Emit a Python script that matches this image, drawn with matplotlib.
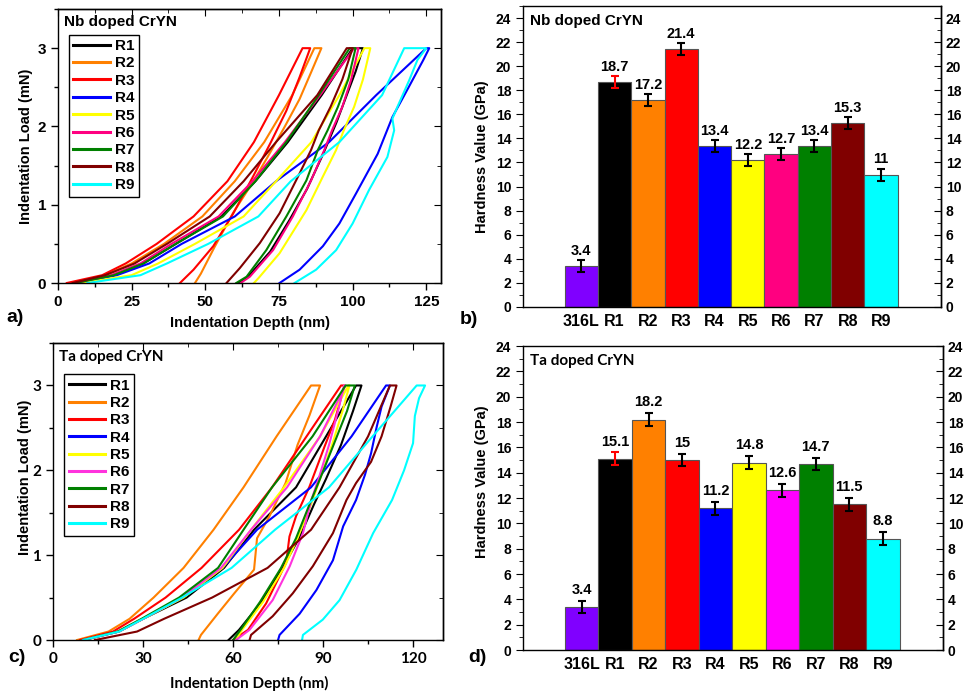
import numpy as np
import matplotlib
matplotlib.use('Agg')
from matplotlib import pyplot as plt
from matplotlib.ticker import MultipleLocator

plt.rcParams['font.family'] = 'Liberation Sans'
plt.rcParams['font.weight'] = 'bold'
plt.rcParams['axes.linewidth'] = 1.0

samples = ['R1', 'R2', 'R3', 'R4', 'R5', 'R6', 'R7', 'R8', 'R9']
bar_names = ['316L'] + samples

# load levels (mN) used for the loading branches
load_steps = [0, 0.1, 0.25, 0.5, 0.85, 1.3, 1.8, 2.4, 3.0]

# Nb doped: depth (nm) of loading branch at load_steps
nb_up = {
    'R1': [6, 19, 29, 40, 55.5, 67, 78, 89.5, 100],
    'R2': [5, 16, 25, 36, 49, 60, 70, 79.5, 87],
    'R3': [3, 15, 23, 33.5, 46, 57.5, 66.5, 75, 83],
    'R4': [7, 20, 31, 42, 60, 74, 92, 108, 125],
    'R5': [8, 25, 34, 46.5, 63, 74, 86, 95.5, 104],
    'R6': [6, 18, 28, 38.5, 54.5, 66, 77, 89, 100.5],
    'R7': [6, 19, 29, 40, 56, 67, 77.5, 88.5, 99],
    'R8': [5, 16, 26, 37, 51.5, 63, 74, 88, 98],
    'R9': [10, 28, 37, 51, 68, 79, 95.5, 110, 117.5],
}
# Nb doped: unloading branches
nb_down_x = {
    'R1': [103.5, 101, 97.5, 94.5, 90, 84.5, 78.5, 72, 64.5, 61.2],
    'R2': [89.4, 86, 82, 77, 71, 65.5, 59.5, 53, 48.5, 46.5],
    'R3': [85.6, 82, 77.5, 72, 66.2, 59.5, 52.7, 46, 41.4],
    'R4': [126, 124, 119, 113.5, 108.5, 101.1, 95.5, 89.9, 82, 75.2],
    'R5': [106, 103.5, 100.5, 97, 94.4, 89.9, 84.3, 75.2, 68, 66.5],
    'R6': [102, 99.5, 96.5, 93, 90.4, 85.9, 79.7, 73, 65.1, 62],
    'R7': [101, 98.5, 95, 91.5, 88.2, 84.3, 77.5, 70.7, 64, 60.5],
    'R8': [100, 96.5, 92.5, 88.5, 85.9, 82, 75.2, 68.5, 61.7, 57.2],
    'R9': [125, 122, 119.2, 115.2, 113.5, 114.1, 111.8, 105.6, 100, 94.4, 87.6, 80.3],
}
nb_down_y = {
    'R1': [3, 2.7, 2.35, 2.05, 1.65, 1.2, 0.8, 0.4, 0.08, 0],
    'R2': [3, 2.7, 2.35, 2.0, 1.6, 1.25, 0.9, 0.45, 0.12, 0],
    'R3': [3, 2.63, 2.2, 1.78, 1.36, 0.89, 0.47, 0.17, 0],
    'R4': [3, 2.85, 2.5, 2.12, 1.65, 1.14, 0.76, 0.47, 0.17, 0],
    'R5': [3, 2.6, 2.25, 1.95, 1.7, 1.36, 0.93, 0.38, 0.06, 0],
    'R6': [3, 2.6, 2.25, 1.95, 1.7, 1.31, 0.85, 0.42, 0.08, 0],
    'R7': [3, 2.6, 2.25, 1.95, 1.7, 1.31, 0.85, 0.42, 0.08, 0],
    'R8': [3, 2.6, 2.25, 1.95, 1.7, 1.4, 0.89, 0.51, 0.19, 0],
    'R9': [3, 2.85, 2.59, 2.25, 2.1, 1.95, 1.61, 1.19, 0.76, 0.42, 0.17, 0],
}

# Ta doped: loading branches
ta_up = {
    'R1': [10, 22, 30, 44.5, 57, 67, 81, 91, 101],
    'R2': [8, 18.5, 25.5, 33.5, 43.5, 53.5, 63.5, 74.5, 86],
    'R3': [9, 20, 27, 37.5, 49.5, 62, 73, 84.5, 96],
    'R4': [10, 22, 30, 43, 56.5, 68, 86, 99.5, 111],
    'R5': [10, 22, 30, 43.5, 56.5, 66, 77, 89, 98.5],
    'R6': [10, 22, 30, 43, 56, 66, 78, 89, 97.5],
    'R7': [10, 21.5, 29.5, 42, 55, 63.5, 73, 86.5, 97.5],
    'R8': [14, 28, 37, 53, 71.5, 86, 95.5, 105, 112.3],
    'R9': [10, 22, 30, 43, 59.5, 74, 92, 106.5, 121.2],
}
ta_down_x = {
    'R1': [102.8, 100, 96, 91, 87, 82, 76.5, 69.5, 62, 58.5],
    'R2': [89, 85.5, 81.5, 77.5, 72, 68, 67, 60.4, 54.9, 49.3, 48.5],
    'R3': [97.2, 94, 90.5, 85.5, 81, 78.8, 77.7, 71, 65, 60],
    'R4': [112.3, 109.5, 107.8, 106, 104, 101, 96.7, 93.3, 87.8, 82.2, 75.5, 75],
    'R5': [98.8, 96.5, 93, 89, 86, 81.5, 77, 70, 63, 61],
    'R6': [97, 95, 92, 88.5, 86.1, 83.3, 78.9, 73.2, 65.5, 61],
    'R7': [100.6, 98, 93.5, 89, 85.5, 81, 76, 69, 62.5, 60],
    'R8': [114.5, 112.5, 109.5, 106, 101, 97.8, 93.3, 86.6, 79.9, 73.2, 66, 65.5],
    'R9': [124, 122, 120.6, 120, 117, 113, 106.7, 101.1, 95.5, 89.9, 83.3, 83],
}
ta_down_y = {
    'R1': [3, 2.7, 2.3, 1.9, 1.6, 1.2, 0.85, 0.45, 0.12, 0],
    'R2': [3, 2.65, 2.3, 1.85, 1.45, 1.2, 0.83, 0.55, 0.31, 0.06, 0],
    'R3': [3, 2.6, 2.28, 1.81, 1.46, 1.22, 0.91, 0.43, 0.12, 0],
    'R4': [3, 2.75, 2.5, 2.2, 1.95, 1.65, 1.34, 0.94, 0.59, 0.31, 0.06, 0],
    'R5': [3, 2.7, 2.3, 1.9, 1.6, 1.2, 0.85, 0.45, 0.12, 0],
    'R6': [3, 2.7, 2.3, 1.9, 1.65, 1.26, 0.87, 0.47, 0.12, 0],
    'R7': [3, 2.7, 2.3, 1.9, 1.6, 1.2, 0.85, 0.45, 0.12, 0],
    'R8': [3, 2.75, 2.4, 2.1, 1.85, 1.65, 1.26, 0.87, 0.55, 0.28, 0.06, 0],
    'R9': [3, 2.85, 2.64, 2.32, 2.0, 1.65, 1.26, 0.83, 0.47, 0.24, 0.06, 0],
}

nb_hardness = [3.4, 18.7, 17.2, 21.4, 13.4, 12.2, 12.7, 13.4, 15.3, 11]
ta_hardness = [3.4, 15.1, 18.2, 15, 11.2, 14.8, 12.6, 14.7, 11.5, 8.8]
hardness_err = [0.5, 0.5, 0.5, 0.5, 0.5, 0.5, 0.5, 0.5, 0.5, 0.5]

nb_colors = ['black', '#FF8000', '#FF0000', '#0000FF', '#FFFF00',
             '#FF0080', '#008000', '#800000', '#00FFFF']
ta_colors = ['black', '#FF8000', '#FF0000', '#0000FF', '#FFFF00',
             '#FF33DD', '#008000', '#800000', '#00FFFF']
bar_nb_colors = ['#8000FF'] + nb_colors[:5] + ['#FF0080'] + nb_colors[6:]
bar_ta_colors = ['#8000FF'] + ta_colors[:5] + ['#FF00FF'] + ta_colors[6:]


def curves(ax, up, down_x, down_y, colors, xstep, title, tfont, tick_font, leg_anchor):
    for i, s in enumerate(samples):
        ax.plot(up[s] + down_x[s], load_steps + down_y[s], color=colors[i], lw=1.5, label=s)
    ax.set_xlim(0, 130)
    ax.set_ylim(0, 3.5)
    ax.xaxis.set_major_locator(MultipleLocator(xstep))
    ax.xaxis.set_minor_locator(MultipleLocator(xstep / 2))
    ax.yaxis.set_major_locator(MultipleLocator(1))
    ax.yaxis.set_minor_locator(MultipleLocator(0.5))
    ax.tick_params(which='major', direction='out', length=5, width=1)
    ax.tick_params(which='minor', direction='out', length=3, width=1)
    for lab in ax.get_xticklabels() + ax.get_yticklabels():
        lab.set_fontfamily(tick_font)
        lab.set_fontsize(11)
        lab.set_fontweight('bold')
    top = ax.secondary_xaxis('top')
    top.xaxis.set_major_locator(MultipleLocator(xstep))
    top.xaxis.set_minor_locator(MultipleLocator(xstep / 2))
    top.tick_params(which='both', direction='in', labeltop=False)
    top.tick_params(which='major', length=5)
    top.tick_params(which='minor', length=3)
    right = ax.secondary_yaxis('right')
    right.yaxis.set_major_locator(MultipleLocator(1))
    right.yaxis.set_minor_locator(MultipleLocator(0.5))
    right.tick_params(which='both', direction='in', labelright=False)
    right.tick_params(which='major', length=5)
    right.tick_params(which='minor', length=3)
    ax.text(0.015, 0.953, title, transform=ax.transAxes, fontsize=11,
            fontweight='bold', fontfamily=tfont, va='center')
    leg = ax.legend(loc='upper left', bbox_to_anchor=leg_anchor, borderaxespad=0,
                    fontsize=11, labelspacing=0.22, handlelength=2.4, handletextpad=0.3,
                    borderpad=0.3, fancybox=False, edgecolor='black', framealpha=1)
    leg.get_frame().set_linewidth(1.0)
    for ln in leg.get_lines():
        ln.set_linewidth(2.2)


def bars(ax, vals, colors, ymax, title, tfont, off):
    x = np.arange(len(vals))
    ax.bar(x, vals, width=1.0, color=colors, edgecolor='#555555', linewidth=0.8, zorder=2)
    for i in range(len(vals)):
        ax.errorbar(x[i], vals[i], yerr=hardness_err[i], fmt='none',
                    ecolor='red' if i == 1 else 'black', elinewidth=1.5,
                    capsize=3, capthick=1.5, zorder=3)
        ax.text(x[i], vals[i] + off, f'{vals[i]:g}', ha='center', va='center',
                fontsize=10.5, fontweight='bold', zorder=4)
    ax.set_xlim(-1.75, 10.8)
    ax.set_ylim(0, ymax)
    ax.set_xticks(x)
    ax.set_xticklabels(bar_names, fontsize=11.5, fontweight='bold')
    ax.tick_params(axis='x', length=0, pad=5)
    ax.yaxis.set_ticks(np.arange(0, 25, 2))
    ax.yaxis.set_minor_locator(MultipleLocator(1))
    ax.tick_params(axis='y', which='major', direction='out', length=5, labelsize=10)
    ax.tick_params(axis='y', which='minor', direction='out', length=3)
    right = ax.secondary_yaxis('right')
    right.set_yticks(np.arange(0, 25, 2))
    right.yaxis.set_minor_locator(MultipleLocator(1))
    right.tick_params(which='major', direction='in', length=5, labelsize=10)
    right.tick_params(which='minor', direction='in', length=3)
    ax.text(0.017, 0.95, title, transform=ax.transAxes, fontsize=11,
            fontweight='bold', fontfamily=tfont, va='center')


fig = plt.figure(figsize=(9.68, 6.95), dpi=100)

ax_a = fig.add_axes([0.0599, 0.5928, 0.3957, 0.3942])
curves(ax_a, nb_up, nb_down_x, nb_down_y, nb_colors, 25, 'Nb doped CrYN',
       'Liberation Sans', 'Liberation Sans', (0.028, 0.907))
ax_a.set_xlabel('Indentation Depth (nm)', fontsize=10.5, fontweight='bold')
ax_a.xaxis.set_label_coords(0.501, -0.12)
ax_a.set_ylabel('Indentation Load (mN)', fontsize=10.5, fontweight='bold')
ax_a.yaxis.set_label_coords(-0.065, 0.5)

ax_b = fig.add_axes([0.5403, 0.5583, 0.4318, 0.4331])
bars(ax_b, nb_hardness, bar_nb_colors, 25, 'Nb doped CrYN', 'Liberation Sans', 1.25)
ax_b.set_ylabel('Hardness Value (GPa)', fontsize=10.5, fontweight='bold')
ax_b.yaxis.set_label_coords(-0.081, 0.5)

ax_c = fig.add_axes([0.0548, 0.0791, 0.4029, 0.4273])
curves(ax_c, ta_up, ta_down_x, ta_down_y, ta_colors, 30, 'Ta doped CrYN',
       'Lato', 'Lato', (0.028, 0.896))
ax_c.set_xlabel('Indentation Depth (nm)', fontsize=11, fontweight='bold', fontfamily='Lato')
ax_c.xaxis.set_label_coords(0.503, -0.121)
ax_c.set_ylabel('Indentation Load (mN)', fontsize=10.5, fontweight='bold')
ax_c.yaxis.set_label_coords(-0.054, 0.549)

ax_d = fig.add_axes([0.5403, 0.0647, 0.4339, 0.4374])
bars(ax_d, ta_hardness, bar_ta_colors, 24, 'Ta doped CrYN', 'Lato', 1.35)
ax_d.set_ylabel('Hardness Value (GPa)', fontsize=10.5, fontweight='bold')
ax_d.yaxis.set_label_coords(-0.081, 0.553)

for lab, px, py in [('a)', 15, 318), ('b)', 469, 320), ('c)', 17, 657), ('d)', 477, 657)]:
    fig.text(px / 968, 1 - py / 695, lab, fontsize=14, fontweight='bold',
             ha='center', va='center')

fig.savefig('out.png', dpi=100)
